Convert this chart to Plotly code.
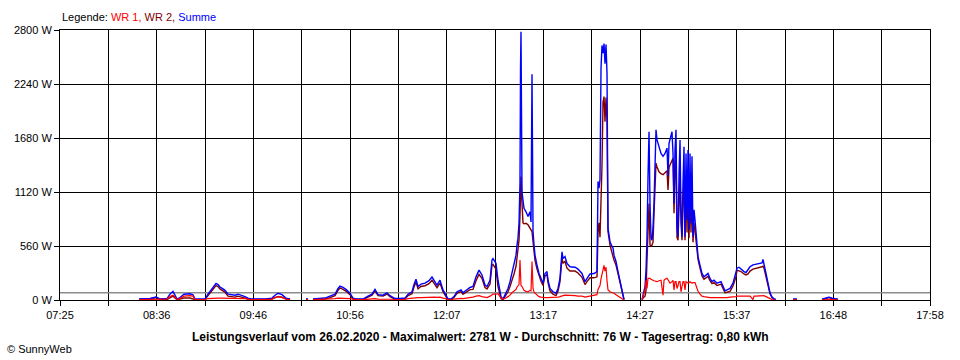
import plotly.graph_objects as go
import numpy as np

# ---- data ----
times = [
    "08:22:30", "08:30:30", "08:34:51", "08:37:45", "08:42:51", "08:45:00", "08:47:13", "08:48:40",
    "08:50:08", "08:52:19", "08:55:13", "08:59:35", "09:01:46", "09:03:13", "09:10:30", "09:12:41",
    "09:15:35", "09:18:30", "09:20:00", "09:21:25", "09:23:36", "09:25:03", "09:27:14", "09:30:09",
    "09:32:20", "09:34:31", "09:37:25", "09:39:36", "09:41:47", "09:43:58", "09:54:10", "09:59:15",
    "10:01:26", "10:03:37", "10:06:31", "10:09:26", "10:12:21", "10:13:48", "10:24:00", "10:25:26",
    "10:26:54", "10:29:05", "10:34:10", "10:37:49", "10:41:27", "10:45:05", "10:47:16", "10:48:43",
    "10:50:55", "10:53:05", "10:56:00", "10:58:11", "11:00:22", "11:05:28", "11:09:06", "11:12:01",
    "11:14:11", "11:16:22", "11:20:01", "11:22:55", "11:25:06", "11:26:34", "11:28:44", "11:32:23",
    "11:36:01", "11:38:12", "11:41:07", "11:42:34", "11:44:01", "11:45:29", "11:47:40", "11:50:34",
    "11:53:29", "11:55:40", "11:57:51", "11:59:18", "12:01:29", "12:03:40", "12:05:51", "12:07:18",
    "12:09:29", "12:11:40", "12:13:51", "12:16:46", "12:18:13", "12:20:24", "12:23:19", "12:25:29",
    "12:27:41", "12:29:52", "12:32:02", "12:34:13", "12:35:41", "12:37:52", "12:39:19", "12:40:02",
    "12:42:13", "12:43:41", "12:45:08", "12:45:52", "12:47:19", "12:48:47", "12:50:58", "12:52:25",
    "12:53:52", "12:55:20", "12:56:47", "12:57:31", "12:58:14", "12:58:58", "12:59:41", "13:00:04",
    "13:00:25", "13:01:09", "13:01:53", "13:02:36", "13:04:04", "13:05:31", "13:06:58", "13:07:42",
    "13:08:26", "13:09:10", "13:09:53", "13:10:37", "13:12:04", "13:13:31", "13:14:59", "13:16:26",
    "13:17:53", "13:19:20", "13:20:04", "13:21:31", "13:23:43", "13:25:53", "13:27:20", "13:28:47",
    "13:30:15", "13:30:59", "13:32:26", "13:33:53", "13:36:04", "13:39:43", "13:41:53", "13:44:48",
    "13:46:59", "13:48:26", "13:50:37", "13:53:32", "13:55:43", "13:56:27", "13:57:10", "13:57:54",
    "13:58:38", "13:59:21", "14:00:05", "14:00:49", "14:01:32", "14:02:16", "14:03:00", "14:03:43",
    "14:05:11", "14:06:38", "14:07:22", "14:08:05", "14:09:33", "14:11:00", "14:12:27", "14:13:55",
    "14:15:22", "14:16:00", "14:28:30", "14:29:11", "14:30:39", "14:31:23", "14:32:06", "14:32:50",
    "14:33:34", "14:34:17", "14:35:01", "14:35:44", "14:36:28", "14:37:12", "14:37:55", "14:38:39",
    "14:39:23", "14:40:50", "14:42:17", "14:43:45", "14:44:28", "14:45:12", "14:46:40", "14:47:23",
    "14:48:07", "14:48:50", "14:50:17", "14:51:01", "14:51:45", "14:52:29", "14:53:12", "14:53:56",
    "14:54:40", "14:55:23", "14:56:07", "14:56:50", "14:57:34", "14:58:18", "14:59:01", "14:59:45",
    "15:00:29", "15:01:13", "15:01:56", "15:02:40", "15:03:23", "15:04:07", "15:04:50", "15:05:34",
    "15:06:18", "15:07:02", "15:07:45", "15:08:29", "15:09:13", "15:10:40", "15:12:07", "15:13:34",
    "15:15:02", "15:16:29", "15:17:56", "15:19:23", "15:20:50", "15:23:02", "15:25:56", "15:27:23",
    "15:28:51", "15:30:18", "15:32:29", "15:34:40", "15:36:51", "15:37:35", "15:39:02", "15:40:29",
    "15:42:40", "15:44:08", "15:45:35", "15:47:02", "15:49:13", "15:49:57", "15:51:24", "15:54:19",
    "15:55:46", "15:56:29", "15:57:13", "15:58:41", "16:00:08", "16:01:35", "16:03:02", "16:04:30",
    "16:05:57", "16:07:00", "16:18:19", "16:21:14", "16:23:00", "16:39:25", "16:42:20", "16:44:31",
    "16:46:41", "16:51:04",
]

summe = [
    12, 15, 30, 12, 15, 60, 90, 50,
    10, 25, 60, 65, 55, 10, 10, 60,
    120, 173, 160, 135, 115, 100, 60, 55,
    50, 60, 50, 35, 20, 10, 10, 20,
    50, 70, 55, 20, 10, None, 10, 10,
    None, 10, 12, 20, 40, 60, 120, 145,
    130, 110, 70, 20, 10, 10, 40, 60,
    110, 55, 50, 75, 45, 35, 15, 15,
    20, 60, 85, 160, 215, 140, 165, 175,
    200, 240, 190, 155, 205, 105, 50, 10,
    10, 35, 85, 105, 75, 100, 130, 140,
    240, 310, 260, 155, 140, 205, 415, 430,
    380, 205, 105, 35, 10, 50, 120, 190,
    275, 360, 465, 570, 640, 800, 1210, 2400,
    2781, 1120, 1000, 950, 915, 865, 915, 810,
    2340, 710, 570, 465, 360, 275, 225, 175,
    275, 295, 205, 120, 85, 70, 120, 225,
    500, 430, 450, 380, 345, 340, 320, 275,
    190, 225, 270, 275, 295, 1230, 1160, 1250,
    2400, 2640, 2560, 2660, 2450, 2650, 2350, 745,
    605, 555, 540, 465, 400, 295, 190, 85,
    5, None, 5, 50, 140, 310, 655, 1280,
    1745, 1000, 640, 620, 750, 1005, 1590, 1765,
    1660, 1575, 1520, 1490, 1500, 1520, 1575, 1290,
    1625, 1660, 1745, 1520, 1000, 1555, 1765, 760,
    655, 1280, 1660, 935, 655, 1210, 1590, 655,
    1520, 830, 1555, 725, 1520, 795, 1490, 655,
    935, 830, 690, 590, 450, 360, 275, 240,
    260, 275, 225, 190, 205, 175, 190, 140,
    95, 105, 120, 175, 275, 330, 340, 320,
    295, 285, 310, 345, 365, 368, 375, 380,
    385, 420, 380, 275, 175, 75, 30, 12,
    5, None, 10, 10, None, 8, 25, 30,
    20, 8,
]

wr2 = [
    6, 10, 25, 6, 5, 25, 40, 20,
    4, 10, 20, 20, 15, 4, 6, 45,
    100, 150, 140, 115, 95, 80, 40, 35,
    30, 40, 32, 20, 10, 6, 6, 10,
    25, 35, 28, 10, 6, None, 6, 6,
    None, 6, 6, 10, 25, 45, 100, 125,
    110, 92, 55, 10, 6, 6, 30, 50,
    95, 45, 40, 62, 35, 27, 9, 10,
    14, 45, 65, 135, 185, 115, 140, 148,
    170, 205, 160, 128, 175, 85, 35, 6,
    6, 25, 70, 88, 60, 82, 108, 110,
    200, 265, 225, 130, 115, 165, 360, 370,
    320, 140, 70, 15, 2, 35, 85, 140,
    200, 270, 350, 430, 480, 620, 870, 1000,
    1280, 1000, 800, 790, 795, 780, 745, 720,
    710, 605, 500, 410, 320, 245, 195, 150,
    250, 265, 180, 95, 60, 45, 90, 190,
    440, 380, 400, 330, 300, 300, 280, 235,
    160, 190, 230, 230, 240, 700, 800, 650,
    1000, 1400, 2050, 2110, 1850, 2100, 1850, 710,
    570, 465, 450, 415, 360, 275, 175, 80,
    2, None, 2, 20, 40, 100, 420, 700,
    1000, 570, 560, 570, 600, 900, 1300, 1420,
    1380, 1330, 1310, 1300, 1310, 1320, 1340, 1140,
    1370, 1400, 1440, 1470, 900, 1380, 1450, 650,
    620, 1050, 1300, 800, 620, 1000, 1300, 620,
    1250, 700, 1350, 640, 1200, 700, 1150, 600,
    800, 720, 640, 540, 420, 330, 250, 215,
    230, 245, 200, 170, 180, 150, 165, 115,
    75, 80, 90, 145, 240, 310, 305, 295,
    270, 260, 270, 300, 320, 322, 330, 340,
    345, 350, 330, 240, 150, 65, 25, 8,
    2, None, 6, 6, None, 4, 20, 25,
    15, 4,
]

wr1 = [
    5, 5, 5, 5, 10, 35, 50, 30,
    5, 15, 40, 45, 40, 5, 3, 15,
    20, 20, 20, 20, 20, 20, 20, 20,
    20, 20, 18, 15, 10, 3, 3, 10,
    25, 35, 27, 10, 3, None, 3, 3,
    None, 3, 5, 10, 15, 15, 20, 20,
    20, 18, 15, 10, 3, 3, 10, 10,
    15, 10, 10, 13, 10, 8, 5, 5,
    6, 15, 20, 25, 30, 25, 25, 27,
    30, 35, 30, 27, 30, 20, 15, 2,
    2, 10, 15, 17, 15, 18, 22, 30,
    40, 45, 35, 25, 25, 40, 55, 60,
    60, 65, 35, 20, 10, 15, 35, 50,
    75, 90, 110, 135, 155, 160, 415, 300,
    150, 140, 110, 100, 90, 85, 100, 95,
    400, 120, 80, 70, 45, 35, 30, 25,
    25, 25, 25, 25, 25, 25, 30, 35,
    45, 45, 50, 50, 45, 45, 40, 40,
    30, 35, 40, 45, 55, 110, 130, 150,
    220, 270, 330, 360, 300, 340, 200, 105,
    85, 80, 75, 70, 55, 40, 25, 10,
    0, None, 0, 35, 105, 205, 120, 225,
    225, 225, 215, 205, 205, 200, 195, 190,
    190, 200, 205, 50, 205, 215, 225, 210,
    190, 175, 190, 205, 105, 190, 190, 120,
    150, 190, 190, 85, 140, 190, 190, 105,
    190, 180, 175, 180, 190, 180, 175, 180,
    180, 180, 150, 120, 90, 60, 40, 35,
    30, 28, 25, 25, 25, 25, 25, 25,
    20, 25, 30, 30, 35, 40, 40, 40,
    40, 40, 40, 40, 5, 40, 40, 45,
    50, 50, 45, 35, 25, 10, 5, 2,
    0, None, 2, 2, None, 2, 5, 5,
    5, 2,
]

average_w = 76

x_tick_labels = ["07:25", "08:36", "09:46", "10:56", "12:07", "13:17", "14:27", "15:37", "16:48", "17:58"]
y_tick_values = [0, 560, 1120, 1680, 2240, 2800]
y_tick_labels = ["0 W", "560 W", "1120 W", "1680 W", "2240 W", "2800 W"]

title_text = ("Leistungsverlauf vom 26.02.2020 - Maximalwert: 2781 W - "
              "Durchschnitt: 76 W - Tagesertrag: 0,80 kWh")


def to_minutes(t):
    h, m, s = (int(p) for p in t.split(":"))
    return h * 60 + m + s / 60.0


x = [to_minutes(t) for t in times]
x_start = to_minutes(x_tick_labels[0] + ":00")
x_end = to_minutes(x_tick_labels[-1] + ":00")

FONT = "Liberation Sans, Arial, sans-serif"

fig = go.Figure()

# average line (drawn first, under the curves)
fig.add_trace(go.Scatter(x=[x_start, x_end], y=[average_w, average_w], mode="lines",
                         line=dict(color="#8c8c8c", width=1.5), hoverinfo="skip",
                         showlegend=False))

fig.add_trace(go.Scatter(x=x, y=wr2, mode="lines", name="WR 2",
                         line=dict(color="#800000", width=1.4), connectgaps=False))
fig.add_trace(go.Scatter(x=x, y=summe, mode="lines", name="Summe",
                         line=dict(color="#0000FF", width=1.4), connectgaps=False))
fig.add_trace(go.Scatter(x=x, y=wr1, mode="lines", name="WR 1",
                         line=dict(color="#FF0000", width=1.2), connectgaps=False))

fig.update_layout(
    width=960, height=360,
    margin=dict(l=60, r=30, t=30, b=60),
    paper_bgcolor="white", plot_bgcolor="white",
    showlegend=False,
    font=dict(family=FONT, size=11, color="black"),
)

fig.update_xaxes(
    range=[x_start, x_end],
    tickmode="array",
    tickvals=list(np.linspace(x_start, x_end, len(x_tick_labels))),
    ticktext=x_tick_labels,
    showgrid=True, gridcolor="black", gridwidth=1,
    ticks="outside", ticklen=5, tickcolor="black", tickwidth=1,
    minor=dict(tickmode="linear", tick0=x_start, dtick=(x_end - x_start) / 18,
               showgrid=True, gridcolor="black", gridwidth=1,
               ticks="outside", ticklen=5, tickcolor="black", tickwidth=1),
    showline=True, linecolor="black", linewidth=1, mirror=True,
    zeroline=False,
    tickfont=dict(family=FONT, size=11, color="black"),
)

fig.update_yaxes(
    range=[0, 2800],
    tickmode="array", tickvals=y_tick_values, ticktext=y_tick_labels,
    showgrid=True, gridcolor="black", gridwidth=1,
    ticks="outside", ticklen=5, tickcolor="black", tickwidth=1,
    showline=True, linecolor="black", linewidth=1, mirror=True,
    zeroline=False,
    tickfont=dict(family=FONT, size=11, color="black"),
)

legend_html = ("Legende: <span style='color:#FF0000'>WR 1,</span> "
               "<span style='color:#800000'>WR 2,</span> "
               "<span style='color:#0000FF'>Summe</span>")

fig.add_annotation(text=legend_html, xref="paper", yref="paper",
                   x=0, y=1 + 13 / 270, xanchor="left", yanchor="middle",
                   showarrow=False, font=dict(family=FONT, size=11, color="black"))

fig.add_annotation(text="<b>" + title_text + "</b>", xref="paper", yref="paper",
                   x=(480 - 60) / 870, y=-37 / 270, xanchor="center", yanchor="middle",
                   showarrow=False, font=dict(family=FONT, size=12, color="black"))

fig.add_annotation(text="© SunnyWeb", xref="paper", yref="paper",
                   x=-55 / 870, y=-49 / 270, xanchor="left", yanchor="middle",
                   showarrow=False, font=dict(family=FONT, size=11, color="black"))

fig.write_html("out.html", config={"displayModeBar": False},
               post_script="document.body.style.margin='0';document.body.style.overflow='hidden';")
